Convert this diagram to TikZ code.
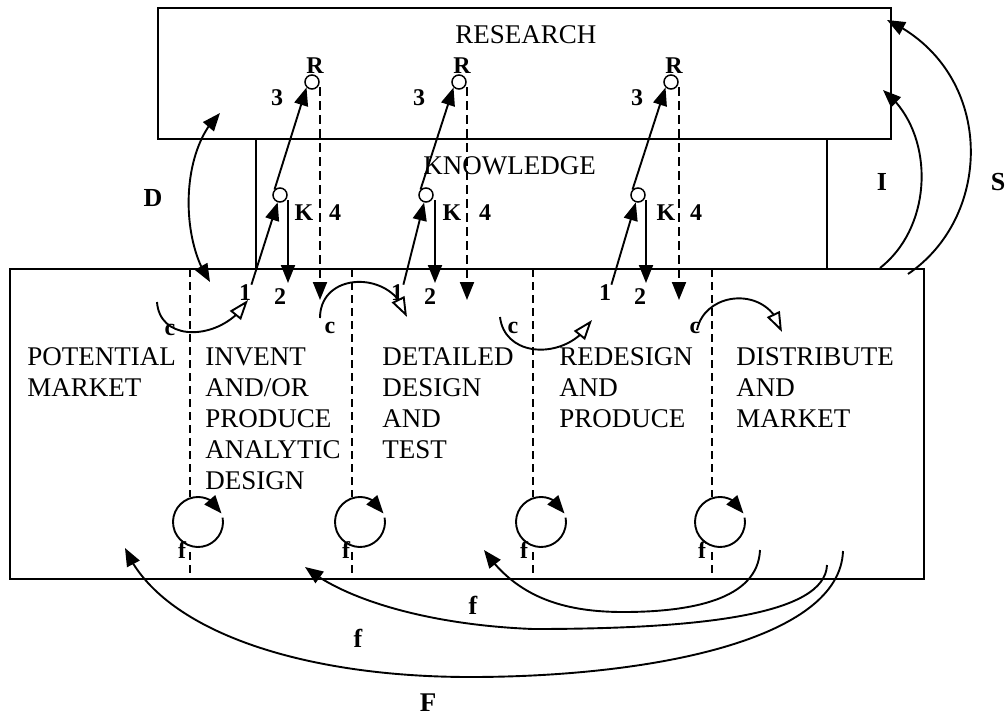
\documentclass[tikz,border=0pt]{standalone}
\usepackage{fontspec}
\setmainfont{Liberation Serif}
\usepackage{tikz}
\usetikzlibrary{
	positioning,
	arrows.meta,
	bending
}

\tikzset{
	box/.style={draw,line width=0.75pt},
	title/.style={anchor=base west,inner sep=0pt,font=\fontsize{13.5}{15.5}\selectfont},
	stage/.style={anchor=north west,inner sep=0pt,align=left,
		font=\fontsize{13.5}{15.5}\selectfont},
	tag/.style={inner sep=0pt,font=\fontsize{12}{14}\selectfont\bfseries},
	bigtag/.style={inner sep=0pt,font=\fontsize{13}{15}\selectfont\bfseries},
	dot/.style={circle,draw,line width=0.75pt,minimum size=7pt,inner sep=0pt},
	link/.style={->,line width=0.95pt},
	chain/.style={-{Triangle[open,length=10pt,width=7pt]},line width=0.95pt},
	recall/.style={link,dash pattern=on 4.5pt off 2.5pt},
	stagesep/.style={line width=0.6pt,dash pattern=on 4pt off 2.5pt}
}

\begin{document}
\begin{tikzpicture}[x=0.5pt,y=0.5pt,>={Triangle[length=9pt,width=7pt]}]
	\useasboundingbox (0,0) rectangle (1007,-718);

	% the three layers
	\draw[box] (158,-8) rectangle (891,-139);
	\draw[box] (256,-139) rectangle (827,-269);
	\draw[box,line width=1pt] (10,-269) rectangle (924,-579);

	\node[title] (research)  at (455,-43)  {RESEARCH};
	\node[title] (knowledge) at (423,-174) {KNOWLEDGE};

	% central chain of innovation
	\node[stage] (market)   at (27,-347)  {POTENTIAL\\MARKET};
	\node[stage] (invent)   at (205,-347) {INVENT\\AND/OR\\PRODUCE\\ANALYTIC\\DESIGN};
	\node[stage] (detail)   at (382,-347) {DETAILED\\DESIGN\\AND\\TEST};
	\node[stage] (redesign) at (559,-347) {REDESIGN\\AND\\PRODUCE};
	\node[stage] (distrib)  at (736,-347) {DISTRIBUTE\\AND\\MARKET};

	\draw[stagesep] (190,-269) -- (190,-497) (190,-552) -- (190,-579);
	\draw[stagesep] (352,-269) -- (352,-497) (352,-552) -- (352,-579);
	\draw[stagesep] (533,-269) -- (533,-497) (533,-552) -- (533,-579);
	\draw[stagesep] (712,-269) -- (712,-497) (712,-552) -- (712,-579);

	% feedback loops inside each stage
	\coordinate (L1) at (198,-522);
	\coordinate (L2) at (360,-522);
	\coordinate (L3) at (541,-522);
	\coordinate (L4) at (720,-522);
	\draw[link] (L1) ++(10:12.5pt) arc[start angle=10,end angle=-340,radius=12.5pt];
	\draw[link] (L2) ++(10:12.5pt) arc[start angle=10,end angle=-340,radius=12.5pt];
	\draw[link] (L3) ++(10:12.5pt) arc[start angle=10,end angle=-340,radius=12.5pt];
	\draw[link] (L4) ++(10:12.5pt) arc[start angle=10,end angle=-340,radius=12.5pt];
	\node[tag] (f1) at (182,-550) {f};
	\node[tag] (f2) at (346,-550) {f};
	\node[tag] (f3) at (524,-550) {f};
	\node[tag] (f4) at (702,-550) {f};

	% links to knowledge and research
	\node[dot] (R1) at (312,-82)  {};
	\node[dot] (R2) at (459,-82)  {};
	\node[dot] (R3) at (671,-82)  {};
	\node[dot] (K1) at (280,-195) {};
	\node[dot] (K2) at (426,-195) {};
	\node[dot] (K3) at (638,-195) {};

	\node[tag] (r1) at (315,-66) {R};
	\node[tag] (r2) at (462,-66) {R};
	\node[tag] (r3) at (674,-66) {R};
	\node[tag] (three1) at (277,-98) {3};
	\node[tag] (three2) at (419,-98) {3};
	\node[tag] (three3) at (637,-98) {3};
	\node[tag] (k1) at (304,-213) {K};
	\node[tag] (k2) at (452,-213) {K};
	\node[tag] (k3) at (666,-213) {K};
	\node[tag] (four1) at (335,-213) {4};
	\node[tag] (four2) at (485,-213) {4};
	\node[tag] (four3) at (696,-213) {4};
	\node[tag] (one1) at (245,-293) {1};
	\node[tag] (one2) at (397,-293) {1};
	\node[tag] (one3) at (605,-293) {1};
	\node[tag] (two1) at (280,-297) {2};
	\node[tag] (two2) at (430,-297) {2};
	\node[tag] (two3) at (640,-297) {2};

	\coordinate (down1) at (288,-283);
	\coordinate (down2) at (435,-283);
	\coordinate (down3) at (646,-283);
	\coordinate (back1) at (320,-300);
	\coordinate (back2) at (467,-300);
	\coordinate (back3) at (679,-300);

	\draw[link] (one1.north east) -- (K1);
	\draw[link] (one2.north east) -- (K2);
	\draw[link] (one3.north east) -- (K3);
	\draw[link] (K1.north west) -- (R1.south west);
	\draw[link] (K2.north west) -- (R2.south west);
	\draw[link] (K3.north west) -- (R3.south west);
	\draw[link] (K1.south east -| down1) -- (down1);
	\draw[link] (K2.south east -| down2) -- (down2);
	\draw[link] (K3.south east -| down3) -- (down3);
	\draw[recall] (R1.south east -| back1) -- (back1);
	\draw[recall] (R2.south east -| back2) -- (back2);
	\draw[recall] (R3.south east -| back3) -- (back3);

	% c: the chain from stage to stage
	\coordinate (c1a) at (157,-302); \coordinate (c1b) at (248,-300);
	\coordinate (c2a) at (320,-318); \coordinate (c2b) at (407,-317);
	\coordinate (c3a) at (500,-317); \coordinate (c3b) at (592,-320);
	\coordinate (c4a) at (697,-330); \coordinate (c4b) at (782,-332);
	\draw[chain] (c1a) .. controls (160,-345) and (225,-340) .. (c1b);
	\draw[chain] (c2a) .. controls (320,-270) and (395,-270) .. (c2b);
	\draw[chain] (c3a) .. controls (505,-360) and (570,-360) .. (c3b);
	\draw[chain] (c4a) .. controls (705,-290) and (770,-285) .. (c4b);
	\node[tag] (cc1) at (170,-330) {c};
	\node[tag] (cc2) at (330,-328) {c};
	\node[tag] (cc3) at (513,-328) {c};
	\node[tag] (cc4) at (695,-328) {c};

	% D, I and S
	\coordinate (Da) at (210,-282); \coordinate (Db) at (220,-113);
	\coordinate (Ia) at (880,-268); \coordinate (Ib) at (883,-90);
	\coordinate (Sa) at (908,-274); \coordinate (Sb) at (887,-20);
	\draw[link,<->] (Da) .. controls (180,-240) and (180,-150) .. (Db);
	\draw[link] (Ia) .. controls (935,-225) and (935,-130) .. (Ib);
	\draw[link] (Sa) .. controls (995,-215) and (995,-70) .. (Sb);
	\node[bigtag] (D) at (153,-198) {D};
	\node[bigtag] (I) at (882,-182) {I};
	\node[bigtag] (S) at (998,-182) {S};

	% f and F: feedback from the market
	\coordinate (fa) at (760,-550); \coordinate (fb) at (484,-550);
	\coordinate (ga) at (827,-565); \coordinate (gb) at (305,-567);
	\coordinate (Fa) at (843,-551); \coordinate (Fb) at (125,-548);
	\draw[link] (fa) .. controls (758,-600) and (690,-612) .. (623,-612)
		.. controls (560,-612) and (515,-595) .. (fb);
	\draw[link] (ga) .. controls (825,-615) and (700,-629) .. (533,-629)
		.. controls (430,-625) and (345,-600) .. (gb);
	\draw[link] (Fa) .. controls (840,-640) and (650,-677) .. (470,-677)
		.. controls (300,-677) and (160,-630) .. (Fb);
	\node[bigtag] (fshort) at (473,-605) {f};
	\node[bigtag] (flong)  at (358,-638) {f};
	\node[bigtag,font=\fontsize{13.5}{15}\selectfont\bfseries] (F) at (428,-703) {F};
\end{tikzpicture}
\end{document}
